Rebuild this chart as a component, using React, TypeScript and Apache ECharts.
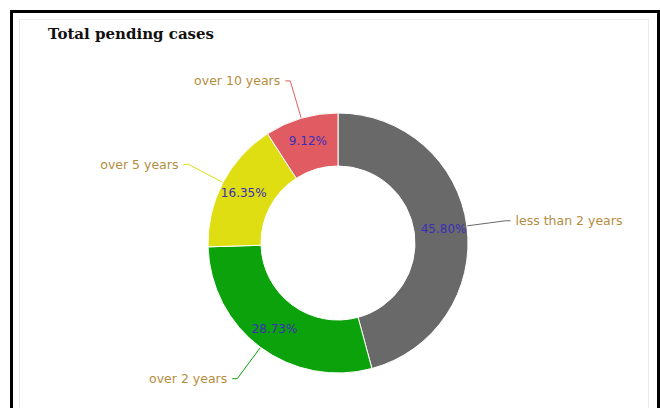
import React, { useEffect, useRef } from "react";
import * as echarts from "echarts";

const categories = ["less than 2 years", "over 2 years", "over 5 years", "over 10 years"];
const values = [45.8, 28.73, 16.35, 9.12];
const colors = ["#696969", "#0ca20c", "#dede12", "#e05c62"];
const titleText = "Total pending cases";

export default function App() {
  const ref = useRef<HTMLDivElement>(null);
  useEffect(() => {
    if (!ref.current) return;
    const chart = echarts.init(ref.current, null, { renderer: "svg" });
    const outerData = categories.map((c, i) => ({
      name: c,
      value: values[i],
      itemStyle: { color: colors[i] },
    }));
    const innerData = categories.map((c, i) => ({ name: c, value: values[i] }));
    chart.setOption({
      animation: false,
      title: {
        text: titleText,
        left: 43,
        top: 21,
        textStyle: {
          fontFamily: "DejaVu Serif",
          fontSize: 15,
          fontWeight: "bold",
          color: "#111",
        },
      },
      series: [
        {
          type: "pie",
          center: [338, 243],
          radius: [77, 130],
          startAngle: 90,
          clockwise: true,
          silent: true,
          itemStyle: { borderColor: "#ffffff", borderWidth: 1 },
          label: {
            show: true,
            position: "outside",
            formatter: "{b}",
            fontFamily: "DejaVu Sans",
            fontSize: 12.5,
            color: "#b38d3e",
            distanceToLabelLine: 5,
          },
          labelLine: { show: true, length: 39, length2: 5, lineStyle: { width: 1 } },
          data: outerData,
        },
        {
          type: "pie",
          center: [338, 243],
          radius: [77, 130],
          startAngle: 90,
          clockwise: true,
          silent: true,
          itemStyle: { color: "transparent" },
          label: {
            show: true,
            position: "inside",
            formatter: (p: any) => Number(p.percent).toFixed(2) + "%",
            fontFamily: "DejaVu Sans",
            fontSize: 12,
            color: "#3a2fb8",
          },
          labelLine: { show: false },
          data: innerData,
        },
      ],
    });
    return () => chart.dispose();
  }, []);
  return (
    <div style={{ position: "fixed", left: 0, top: 0, width: 660, height: 408, overflow: "hidden", background: "#fff" }}>
      <div
        style={{
          position: "absolute",
          left: 10,
          top: 10,
          width: 650,
          height: 420,
          boxSizing: "border-box",
          border: "3px solid #000",
        }}
      />
      <div
        style={{
          position: "absolute",
          left: 19,
          top: 19,
          width: 630,
          height: 400,
          boxSizing: "border-box",
          border: "1px solid #ececec",
        }}
      />
      <div ref={ref} style={{ position: "absolute", left: 0, top: 0, width: 660, height: 408 }} />
    </div>
  );
}
